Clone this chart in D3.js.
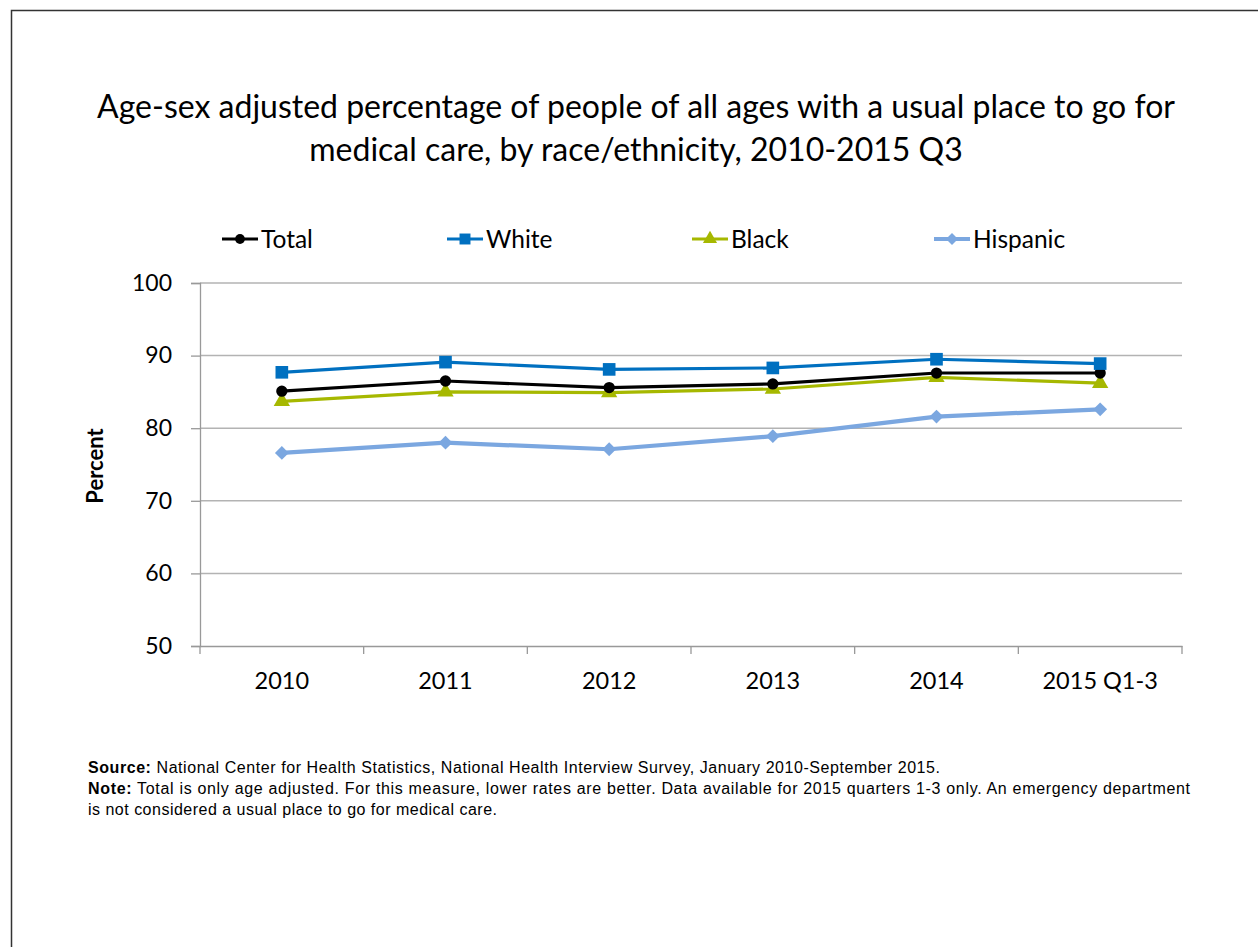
<!DOCTYPE html>
<html><head><meta charset="utf-8">
<script src="https://cdn.jsdelivr.net/npm/d3@7"></script>
<style>
body{margin:0;background:#fff;}
svg{display:block;}
</style></head>
<body>
<svg id="chart" width="1258" height="947"></svg>
<script>
const categories = ["2010","2011","2012","2013","2014","2015 Q1-3"];
const totalValues    = [85.1, 86.5, 85.6, 86.1, 87.6, 87.6];
const whiteValues    = [87.7, 89.1, 88.1, 88.3, 89.5, 88.9];
const blackValues    = [83.7, 85.0, 84.9, 85.4, 87.0, 86.2];
const hispanicValues = [76.6, 78.0, 77.1, 78.9, 81.6, 82.6];
const seriesNames = ["Total","White","Black","Hispanic"];
const yTicks = [50,60,70,80,90,100];

(function(){
const colors = {Total:"#000000", White:"#0070C0", Black:"#A6B800", Hispanic:"#7BA7E0"};
const widths = {Total:3.2, White:3.2, Black:3.2, Hispanic:4.2};
const series = seriesNames.map((n,i)=>({name:n, values:[totalValues,whiteValues,blackValues,hispanicValues][i]}));

function markerPath(n, k){
  k = k||1;
  if(n==="Total") return d3.symbol().type(d3.symbolCircle).size(100*k)();
  if(n==="White") return d3.symbol().type(d3.symbolSquare).size(160*k)();
  if(n==="Black") return d3.symbol().type(d3.symbolTriangle).size(115*k)();
  return d3.symbol().type(d3.symbolSquare).size(95*k)();
}
const markerRot = n => n==="Hispanic" ? " rotate(45)" : "";

const svg = d3.select("#chart");
const font = "Lato, 'Open Sans', sans-serif";

svg.append("path").attr("d","M11.5,947 L11.5,10.5 L1258,10.5").attr("fill","none").attr("stroke","#333").attr("stroke-width",1.5);

const title = svg.append("text").attr("text-anchor","middle")
  .attr("font-family",font).attr("font-size",32).attr("fill","#000");
title.append("tspan").attr("x",636).attr("y",118).text("Age-sex adjusted percentage of people of all ages with a usual place to go for");
title.append("tspan").attr("x",636).attr("y",161).text("medical care, by race/ethnicity, 2010-2015 Q3");

const pL=200, pR=1182, pT=283, pB=646;
const x = d3.scaleBand().domain(categories).range([pL,pR]);
const y = d3.scaleLinear().domain([50,100]).range([pB,pT]);

svg.append("g").selectAll("line").data(yTicks.filter(d=>d>50)).join("line")
  .attr("x1",pL).attr("x2",pR).attr("y1",d=>y(d)).attr("y2",d=>y(d))
  .attr("stroke","#b3b3b3").attr("stroke-width",1.5);

const yAxis = svg.append("g").attr("transform",`translate(${pL},0)`)
  .call(d3.axisLeft(y).tickValues(yTicks).tickSize(9).tickPadding(19));
yAxis.select(".domain").attr("stroke","#999").attr("stroke-width",1.3);
yAxis.selectAll(".tick line").attr("stroke","#999").attr("stroke-width",1.3);
yAxis.selectAll("text").attr("font-family",font).attr("font-size",23).attr("fill","#000");

const xAxis = svg.append("g").attr("transform",`translate(0,${pB})`)
  .call(d3.axisBottom(x).tickSize(0).tickPadding(26));
xAxis.select(".domain").attr("stroke","#999").attr("stroke-width",1.3);
xAxis.selectAll("text").attr("font-family",font).attr("font-size",23.5).attr("fill","#000");
const bounds = categories.map(c=>x(c)).concat([pR]);
svg.append("g").selectAll("line").data(bounds).join("line")
  .attr("x1",d=>d).attr("x2",d=>d).attr("y1",pB).attr("y2",pB+8)
  .attr("stroke","#999").attr("stroke-width",1.3);

svg.append("text").attr("transform","translate(103,466) rotate(-90)")
  .attr("text-anchor","middle").attr("font-family",font).attr("font-weight","bold")
  .attr("font-size",22).text("Percent");

const cx = c => x(c)+x.bandwidth()/2;
const line = d3.line().x((d,i)=>cx(categories[i])).y(d=>y(d));
const drawOrder = ["Hispanic","Black","Total","White"];
drawOrder.forEach(n=>{
  const s = series.find(t=>t.name===n);
  const g = svg.append("g");
  g.append("path").attr("d",line(s.values)).attr("fill","none")
    .attr("stroke",colors[n]).attr("stroke-width",widths[n]).attr("stroke-linejoin","round");
  g.selectAll("path.m").data(s.values).join("path").attr("class","m")
    .attr("transform",(d,i)=>`translate(${cx(categories[i])},${y(d)})${markerRot(n)}`)
    .attr("d",markerPath(n))
    .attr("fill",colors[n]);
});

const legendX = [240, 465, 710, 952];
const lg = svg.append("g");
series.forEach((s,i)=>{
  const g = lg.append("g").attr("transform",`translate(${legendX[i]},239)`);
  g.append("line").attr("x1",-18).attr("x2",18).attr("stroke",colors[s.name]).attr("stroke-width",widths[s.name]);
  g.append("path").attr("transform","translate(0,0)"+markerRot(s.name)).attr("d",markerPath(s.name,0.75)).attr("fill",colors[s.name]);
  g.append("text").attr("x",21).attr("y",8.5).attr("font-family",font).attr("font-size",24.5).text(s.name);
});

const fn = "'Liberation Sans', Arial, sans-serif";
const foot = svg.append("g").attr("font-family",fn).attr("font-size",16).attr("fill","#000");
const t1 = foot.append("text").attr("x",88).attr("y",773).attr("textLength",852).attr("lengthAdjust","spacing");
t1.append("tspan").attr("font-weight","bold").text("Source:");
t1.append("tspan").text(" National Center for Health Statistics,  National Health Interview Survey,  January 2010-September 2015.");
const t2 = foot.append("text").attr("x",88).attr("y",794).attr("textLength",1102).attr("lengthAdjust","spacing");
t2.append("tspan").attr("font-weight","bold").text("Note:");
t2.append("tspan").text(" Total is only age adjusted. For this measure, lower rates are better. Data available for 2015 quarters 1-3 only. An emergency department");
foot.append("text").attr("x",88).attr("y",815).attr("textLength",409).attr("lengthAdjust","spacing").text("is not considered a usual place to go for medical care.");
})();
</script>
</body></html>
